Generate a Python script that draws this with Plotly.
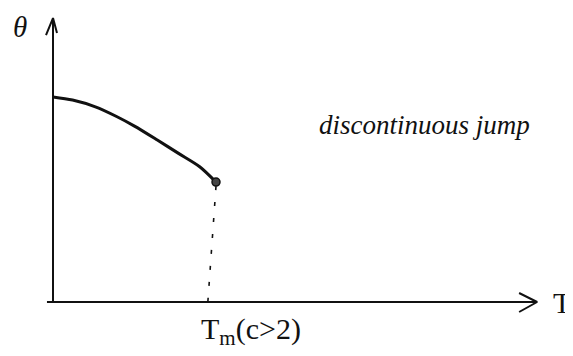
import plotly.graph_objects as go

# order parameter vs temperature, sketch values (T_m = 1, theta(0) = 1)
temp = [0.0, 0.12, 0.26, 0.39, 0.50, 0.64, 0.77, 0.90, 1.0]
theta = [1.0, 0.985, 0.952, 0.905, 0.858, 0.79, 0.725, 0.66, 0.585]

t_m_foot = 0.95          # where the hand-drawn dashed drop meets the axis
x_axis_span = [-0.037, 2.97]
y_axis_span = [0.0, 1.385]

x_label = "T"
y_label = "θ"
tm_label = "T<sub>m</sub>(c>2)"
note = "discontinuous jump"

# page pixel <-> data scale (the page body has an 8px margin)
W, H = 573, 356
OFF = 8
X0_PX, Y0_PX = 53, 302
PX_PER_T, PX_PER_TH = 163.0, 205.0
x_range = [(OFF - X0_PX) / PX_PER_T, (W + OFF - X0_PX) / PX_PER_T]
y_range = [(Y0_PX - H - OFF) / PX_PER_TH, (Y0_PX - OFF) / PX_PER_TH]


def dx(px):
    return px / PX_PER_T


def dy(px):
    return px / PX_PER_TH


def at(px, py):
    return (px - X0_PX) / PX_PER_T, (Y0_PX - py) / PX_PER_TH


ink = "#111"
fig = go.Figure()

# axes
fig.add_trace(go.Scatter(x=x_axis_span, y=[0, 0], mode="lines",
                         line=dict(color=ink, width=2), hoverinfo="skip"))
fig.add_trace(go.Scatter(x=[0, 0], y=y_axis_span, mode="lines",
                         line=dict(color=ink, width=2), hoverinfo="skip"))

# arrowheads (open, hand drawn look)
xt = x_axis_span[1]
fig.add_trace(go.Scatter(x=[xt - dx(18), xt, xt - dx(18)], y=[dy(9), 0, -dy(10)],
                         mode="lines", line=dict(color=ink, width=2), hoverinfo="skip"))
yt = y_axis_span[1]
fig.add_trace(go.Scatter(x=[-dx(7), 0, dx(4)], y=[yt - dy(17), yt, yt - dy(15)],
                         mode="lines", line=dict(color=ink, width=2), hoverinfo="skip"))

# theta(T) curve
fig.add_trace(go.Scatter(x=temp, y=theta, mode="lines",
                         line=dict(color=ink, width=3, shape="spline", smoothing=0.8),
                         hoverinfo="skip"))

# dashed drop to T_m
fig.add_trace(go.Scatter(x=[temp[-1], t_m_foot], y=[theta[-1] - dy(4), 0], mode="lines",
                         line=dict(color=ink, width=1.6, dash="4px,12px"), hoverinfo="skip"))

# end point
fig.add_trace(go.Scatter(x=[temp[-1]], y=[theta[-1]], mode="markers",
                         marker=dict(size=8, color="#444", line=dict(color=ink, width=1.5)),
                         hoverinfo="skip"))

serif = "Liberation Serif"
lx, ly = at(20, 27)
fig.add_annotation(x=lx, y=ly, text=f"<i>{y_label}</i>", showarrow=False,
                   font=dict(family=serif, size=29, color=ink))
lx, ly = at(551, 302)
fig.add_annotation(x=lx, y=ly, xanchor="left", text=x_label, showarrow=False,
                   font=dict(family=serif, size=30, color=ink))
lx, ly = at(251, 331)
fig.add_annotation(x=lx, y=ly, text=tm_label, showarrow=False,
                   font=dict(family=serif, size=30, color=ink))
lx, ly = at(424, 125)
fig.add_annotation(x=lx, y=ly, text=f"<i>{note}</i>", showarrow=False,
                   font=dict(family=serif, size=27, color=ink))

fig.update_layout(
    width=W, height=H,
    margin=dict(l=0, r=0, t=0, b=0),
    showlegend=False,
    plot_bgcolor="white", paper_bgcolor="white",
    xaxis=dict(range=x_range, visible=False, fixedrange=True),
    yaxis=dict(range=y_range, visible=False, fixedrange=True),
)

fig.write_html("out.html")
